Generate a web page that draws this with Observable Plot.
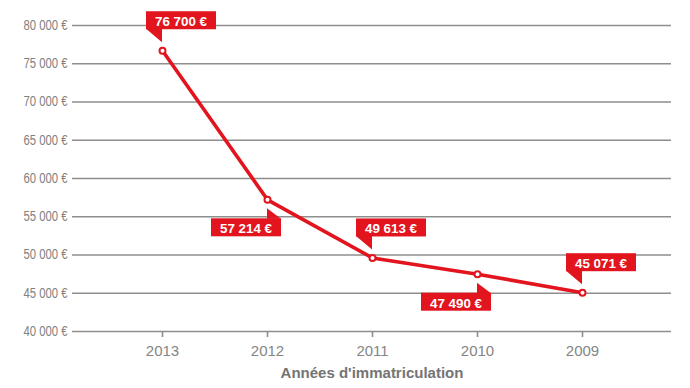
<!DOCTYPE html>
<html><head><meta charset="utf-8">
<script src="https://cdn.jsdelivr.net/npm/d3@7"></script>
<script src="https://cdn.jsdelivr.net/npm/@observablehq/plot@0.6"></script>
<style>body{margin:0;background:#fff}</style>
</head><body><div id="chart"></div>
<script>
const years = ["2013", "2012", "2011", "2010", "2009"];
const values = [76700, 57214, 49613, 47490, 45071];
const valueLabels = ["76 700 €", "57 214 €", "49 613 €", "47 490 €", "45 071 €"];
const labelSides = ["above", "below", "above", "below", "above"];
const yTicks = [40000, 45000, 50000, 55000, 60000, 65000, 70000, 75000, 80000];
const xTitle = "Années d'immatriculation";

const red = "#e2141d";
const grid = "#8e8e8e";
const data = years.map((year, i) => ({year, value: values[i], label: valueLabels[i], side: labelSides[i]}));

const fmt = v => String(v).replace(/\B(?=(\d{3})+(?!\d))/g, " ") + " €";

function callouts(index, scales) {
  const g = d3.create("svg:g");
  const w = 70, h = 18;
  data.forEach(d => {
    const x = scales.x(d.year), y = scales.y(d.value);
    let left, top, tri;
    if (d.side === "above") {
      left = x - 16; top = y - 21 - h;
      const b = top + h;
      tri = [[left, b - 0.5], [x, b - 0.5], [x, y - 8]];
    } else {
      left = x + 14 - w; top = y + 19;
      tri = [[x, top + 0.5], [x, y + 9], [x + 14, top + 0.5]];
    }
    g.append("path").attr("d", "M" + tri.map(p => p.join(",")).join("L") + "Z").attr("fill", red);
    g.append("rect").attr("x", left).attr("y", top).attr("width", w).attr("height", h).attr("fill", red);
    g.append("text")
      .attr("x", left + w / 2).attr("y", top + h / 2 + 1).attr("dy", "0.36em")
      .attr("text-anchor", "middle")
      .attr("fill", "white")
      .attr("font-family", "Liberation Sans, Arial, sans-serif")
      .attr("font-weight", "bold")
      .attr("font-size", 13.5)
      .attr("textLength", 52)
      .attr("lengthAdjust", "spacingAndGlyphs")
      .text(d.label);
  });
  return g.node();
}

const chart = Plot.plot({
  width: 690,
  height: 388,
  marginLeft: 72,
  marginRight: 19,
  marginTop: 25,
  marginBottom: 57,
  style: {background: "white", overflow: "visible"},
  x: {type: "point", domain: years, padding: 0.84, label: null},
  y: {domain: [40000, 80000], label: null},
  marks: [
    Plot.ruleY(yTicks, {stroke: grid, strokeWidth: 1.6}),
    Plot.axisY({
      ticks: yTicks, tickSize: 0, tickPadding: 5, tickFormat: fmt, label: null,
      fontFamily: "Liberation Sans, Arial, sans-serif",
      fontSize: 14, fill: "#808080"
    }),
    Plot.axisX({
      tickSize: 6, tickPadding: 8, label: null, stroke: grid, strokeWidth: 1.6,
      fontFamily: "Liberation Sans, Arial, sans-serif", fontSize: 15, fill: "#858585"
    }),
    Plot.text([xTitle], {
      frameAnchor: "bottom", dy: 46, text: d => d,
      fontFamily: "Liberation Sans, Arial, sans-serif", fontSize: 15, fontWeight: "bold", fill: "#747474"
    }),
    Plot.line(data, {x: "year", y: "value", stroke: red, strokeWidth: 3.6}),
    Plot.dot(data, {x: "year", y: "value", r: 3, fill: "white", stroke: red, strokeWidth: 2}),
    callouts
  ]
});
// condensed look of the y tick labels
d3.select(chart).selectAll("g[aria-label='y-axis tick label'] text")
  .attr("textLength", 44).attr("lengthAdjust", "spacingAndGlyphs");
document.getElementById("chart").append(chart);
</script>
</body></html>
